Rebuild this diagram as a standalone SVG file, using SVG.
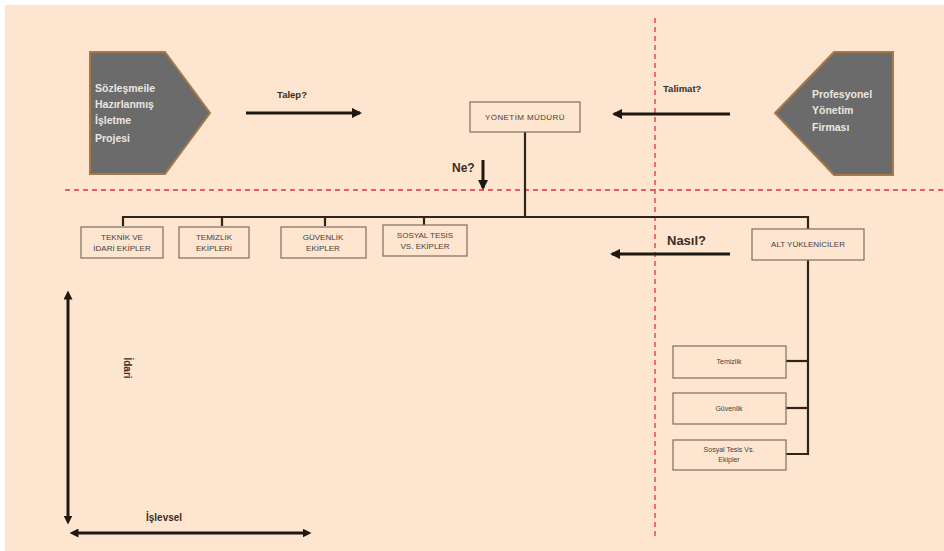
<svg xmlns="http://www.w3.org/2000/svg" width="944" height="551" viewBox="0 0 944 551">
<style>
.box{fill:#fde5cf;stroke:#7d6e60;stroke-width:1.2}
.bt{font-family:"Liberation Sans",Arial,sans-serif;font-size:8px;fill:#4a4038;text-anchor:middle}
.st{font-family:"Liberation Sans",Arial,sans-serif;font-size:7px;fill:#4a4038;text-anchor:middle}
.wt{font-family:"Liberation Sans",Arial,sans-serif;font-size:10.5px;font-weight:bold;fill:#ebe6e0}
.lbl{font-family:"Liberation Sans",Arial,sans-serif;font-weight:bold;fill:#3a2e26}
.ln{stroke:#2e241c;stroke-width:2.2;fill:none}
.arr{stroke:#1e1812;stroke-width:3;fill:none}
.red{stroke:#e0303a;stroke-width:1.3;stroke-dasharray:5,4;fill:none}
.shape{fill:#6b6b6b;stroke:#a47a4a;stroke-width:2}
</style>
<defs>
<marker id="ah" viewBox="0 0 10 10" refX="8" refY="5" markerWidth="3.5" markerHeight="3.5" orient="auto-start-reverse"><path d="M0,0 L10,5 L0,10 z" fill="#1e1812"/></marker>
<marker id="ah2" viewBox="0 0 10 10" refX="5" refY="5" markerWidth="3" markerHeight="3" orient="auto-start-reverse"><path d="M0,0 L10,5 L0,10 z" fill="#1e1812"/></marker>
</defs>
<rect x="0" y="0" width="944" height="551" fill="#ffffff"/>
<rect x="5" y="5" width="939" height="546" fill="#fde5cf"/>

<g id="guides">
<line class="red" x1="65" y1="190" x2="944" y2="190"/>
<line class="red" x1="655" y1="18" x2="655" y2="540"/>
</g>

<g id="connectors">
<line class="ln" x1="525" y1="132" x2="525" y2="217"/>
<polyline class="ln" points="123,226 123,217 808,217 808,229"/>
<line class="ln" x1="222" y1="217" x2="222" y2="226"/>
<line class="ln" x1="325" y1="217" x2="325" y2="226"/>
<line class="ln" x1="424" y1="217" x2="424" y2="225"/>
<polyline class="ln" points="808,260 808,454 786,454"/>
<line class="ln" x1="786" y1="361" x2="808" y2="361"/>
<line class="ln" x1="786" y1="408" x2="808" y2="408"/>
<line class="arr" x1="246" y1="113" x2="360" y2="113" marker-end="url(#ah)"/>
<line class="arr" x1="730" y1="114" x2="614" y2="114" marker-end="url(#ah)"/>
<line class="arr" x1="730" y1="254" x2="612" y2="254" marker-end="url(#ah)"/>
<line class="arr" stroke-width="2" x1="483" y1="160" x2="483" y2="188" marker-end="url(#ah)"/>
<line class="arr" stroke-width="2.5" x1="68" y1="295" x2="68" y2="520" marker-start="url(#ah2)" marker-end="url(#ah2)"/>
<line class="arr" stroke-width="2.5" x1="74" y1="533" x2="307" y2="533" marker-start="url(#ah2)" marker-end="url(#ah2)"/>
</g>

<g id="labels">
<text class="lbl" x="292" y="98" font-size="9.5" text-anchor="middle">Talep?</text>
<text class="lbl" x="663" y="92" font-size="9.5">Talimat?</text>
<text class="lbl" x="452" y="172" font-size="12">Ne?</text>
<text class="lbl" x="667" y="245" font-size="13">Nasıl?</text>
<text class="lbl" x="146" y="521" font-size="10">İşlevsel</text>
<text class="lbl" transform="translate(124,368) rotate(90)" font-size="10" text-anchor="middle">İdari</text>
</g>

<g id="sozlesme">
<polygon class="shape" points="90,52 165,52 210,113 165,174 90,174"/>
<text class="wt" x="95" y="92">Sözleşmeile</text>
<text class="wt" x="95" y="108">Hazırlanmış</text>
<text class="wt" x="95" y="124">İşletme</text>
<text class="wt" x="95" y="142">Projesi</text>
</g>

<g id="profesyonel">
<polygon class="shape" points="834,52 893,52 893,175 834,175 775,113"/>
<text class="wt" x="812" y="98">Profesyonel</text>
<text class="wt" x="812" y="114">Yönetim</text>
<text class="wt" x="812" y="131">Firması</text>
</g>

<g id="yonetim-muduru">
<rect class="box" x="470" y="102" width="110" height="30"/>
<text class="bt" x="525" y="120" letter-spacing="0.4">YÖNETİM  MÜDÜRÜ</text>
</g>

<g id="teknik">
<rect class="box" x="81" y="227" width="82" height="31"/>
<text class="bt" x="122" y="240">TEKNİK  VE</text>
<text class="bt" x="122" y="251">İDARİ EKİPLER</text>
</g>
<g id="temizlik-ekipleri">
<rect class="box" x="179" y="227" width="70" height="31"/>
<text class="bt" x="214" y="240">TEMİZLİK</text>
<text class="bt" x="214" y="251">EKİPLERİ</text>
</g>
<g id="guvenlik-ekipler">
<rect class="box" x="281" y="227" width="85" height="31"/>
<text class="bt" x="323" y="240">GÜVENLİK</text>
<text class="bt" x="323" y="251">EKİPLER</text>
</g>
<g id="sosyal-tesis-ekipler">
<rect class="box" x="383" y="225" width="84" height="31"/>
<text class="bt" x="425" y="238">SOSYAL TESİS</text>
<text class="bt" x="425" y="249">VS. EKİPLER</text>
</g>

<g id="alt-yukleniciler">
<rect class="box" x="752" y="229" width="112" height="31"/>
<text class="bt" x="808" y="247">ALT YÜKLENİCİLER</text>
</g>

<g id="temizlik">
<rect class="box" x="673" y="346" width="113" height="32"/>
<text class="st" x="729" y="364">Temizlik</text>
</g>
<g id="guvenlik">
<rect class="box" x="673" y="393" width="113" height="31"/>
<text class="st" x="729" y="411">Güvenlik</text>
</g>
<g id="sosyal-tesis">
<rect class="box" x="673" y="440" width="113" height="30"/>
<text class="st" x="729" y="452">Sosyal Tesis Vs.</text>
<text class="st" x="729" y="462">Ekipler</text>
</g>
</svg>
